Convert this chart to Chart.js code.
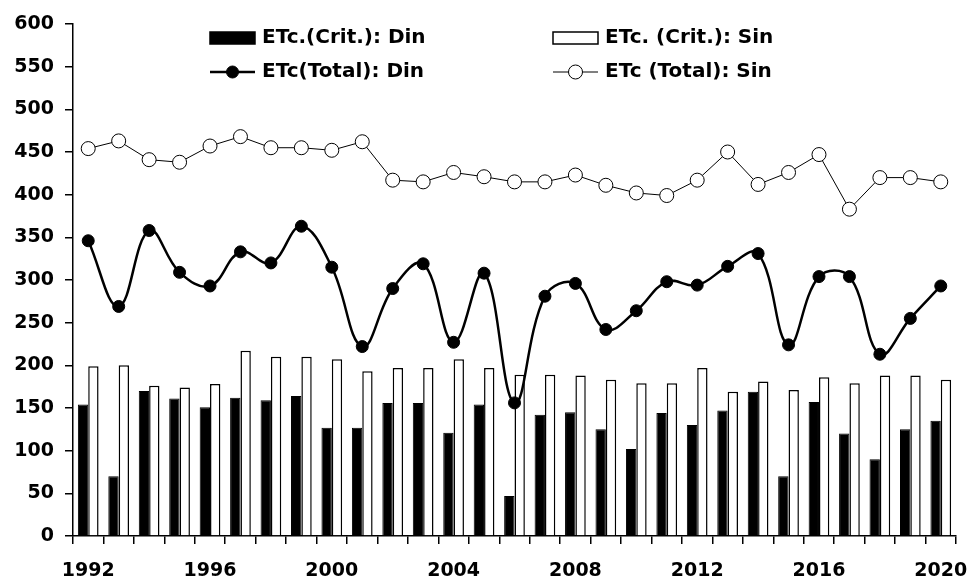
<!DOCTYPE html>
<html>
<head>
<meta charset="utf-8">
<script src="https://cdn.jsdelivr.net/npm/chart.js@4"></script>
<style>
    body { margin: 0; background: #fff; }
    #wrap { width: 967px; height: 580px; position: relative; }
</style>
</head>
<body>
<div id="wrap"><canvas id="chart"></canvas></div>
<script>
const years = ['1992', '1993', '1994', '1995', '1996', '1997', '1998', '1999', '2000', '2001',
    '2002', '2003', '2004', '2005', '2006', '2007', '2008', '2009', '2010', '2011',
    '2012', '2013', '2014', '2015', '2016', '2017', '2018', '2019', '2020'];
const shownYears = ['1992', '1996', '2000', '2004', '2008', '2012', '2016', '2020'];

const critDin = [154, 70, 170, 161, 151, 162, 159, 164, 127, 127, 156, 156, 121, 154, 47,
    142, 145, 125, 102, 144, 130, 147, 169, 70, 157, 120, 90, 125, 135];
const critSin = [199, 200, 176, 174, 178, 217, 210, 210, 207, 193, 197, 197, 207, 197, 189,
    189, 188, 183, 179, 179, 197, 169, 181, 171, 186, 179, 188, 188, 183];
const totalDin = [346, 269, 358, 309, 293, 333, 320, 363, 315, 222, 290, 319, 227, 308, 156,
    281, 296, 242, 264, 298, 294, 316, 331, 224, 304, 304, 213, 255, 293];
const totalSin = [454, 463, 441, 438, 457, 468, 455, 455, 452, 462, 417, 415, 426, 421, 415,
    415, 423, 411, 402, 399, 417, 450, 412, 426, 447, 383, 420, 420, 415];

const FONT = 'DejaVu Sans';

// legend drawn inside the plot, two columns
const insideLegend = {
    id: 'insideLegend',
    afterDraw(chart) {
        const ctx = chart.ctx;
        const ds = chart.data.datasets;
        const items = [
            { d: ds[2], x: 210, y: 38 },
            { d: ds[3], x: 553, y: 38 },
            { d: ds[0], x: 210, y: 72 },
            { d: ds[1], x: 553, y: 72 }
        ];
        ctx.save();
        items.forEach(it => {
            const d = it.d;
            if (d.type !== 'line') {
                ctx.fillStyle = d.backgroundColor;
                ctx.strokeStyle = '#000';
                ctx.lineWidth = 1.5;
                ctx.fillRect(it.x, it.y - 6, 45, 12);
                ctx.strokeRect(it.x, it.y - 6, 45, 12);
            } else {
                ctx.strokeStyle = '#000';
                ctx.lineWidth = d.borderWidth;
                ctx.beginPath();
                ctx.moveTo(it.x, it.y);
                ctx.lineTo(it.x + 45, it.y);
                ctx.stroke();
                ctx.beginPath();
                ctx.arc(it.x + 22.5, it.y, d.pointRadius, 0, Math.PI * 2);
                ctx.fillStyle = d.pointBackgroundColor;
                ctx.fill();
                ctx.lineWidth = d.pointBorderWidth;
                ctx.stroke();
            }
            ctx.fillStyle = '#000';
            ctx.font = 'bold 20px "' + FONT + '"';
            ctx.textBaseline = 'middle';
            ctx.textAlign = 'left';
            ctx.fillText(d.label, it.x + 52, it.y);
        });
        ctx.restore();
    }
};

let ctx = document.getElementById('chart').getContext('2d');
let chart = new Chart(ctx, {
    type: 'bar',
    data: {
        labels: years,
        datasets: [{
            type: 'line',
            label: 'ETc(Total): Din',
            data: totalDin,
            order: 0,
            borderColor: '#000',
            borderWidth: 2.5,
            tension: 0.4,
            pointRadius: 6,
            pointBackgroundColor: '#000',
            pointBorderColor: '#000',
            pointBorderWidth: 1
        }, {
            type: 'line',
            label: 'ETc (Total): Sin',
            data: totalSin,
            order: 0,
            borderColor: '#000',
            borderWidth: 1,
            tension: 0,
            pointRadius: 7,
            pointBackgroundColor: '#fff',
            pointBorderColor: '#000',
            pointBorderWidth: 1
        }, {
            label: 'ETc.(Crit.): Din',
            data: critDin,
            order: 1,
            backgroundColor: '#000',
            borderColor: '#000',
            borderWidth: 1,
            categoryPercentage: 0.68,
            barPercentage: 1.0
        }, {
            label: 'ETc. (Crit.): Sin',
            data: critSin,
            order: 1,
            backgroundColor: '#fff',
            borderColor: '#000',
            borderWidth: 1.5,
            categoryPercentage: 0.68,
            barPercentage: 1.0
        }]
    },
    options: {
        responsive: true,
        maintainAspectRatio: false,
        animation: false,
        layout: { padding: { left: 8, top: 24, right: 11, bottom: 0 } },
        plugins: {
            legend: { display: false },
            tooltip: { enabled: false }
        },
        scales: {
            x: {
                offset: true,
                afterFit: s => { s.height = 44; s.paddingLeft = 0; s.paddingRight = 0; },
                border: { color: '#000', width: 1.5 },
                grid: {
                    offset: true,
                    drawOnChartArea: false,
                    drawTicks: true,
                    tickLength: 8,
                    color: '#000',
                    lineWidth: 1.5
                },
                ticks: {
                    autoSkip: false,
                    maxRotation: 0,
                    padding: 16,
                    color: '#000',
                    font: { family: FONT, size: 19, weight: 'bold' },
                    callback: function (val) {
                        const l = this.getLabelForValue(val);
                        return shownYears.includes(l) ? l : '';
                    }
                }
            },
            y: {
                min: 0,
                max: 600,
                afterFit: s => { s.width = 65; s.paddingTop = 0; s.paddingBottom = 0; },
                border: { color: '#000', width: 1.5 },
                grid: {
                    drawOnChartArea: false,
                    tickLength: 8,
                    color: '#000',
                    lineWidth: 1.5
                },
                ticks: {
                    stepSize: 50,
                    padding: 11,
                    color: '#000',
                    font: { family: FONT, size: 19, weight: 'bold' }
                }
            }
        }
    },
    plugins: [insideLegend]
});
</script>
</body>
</html>
